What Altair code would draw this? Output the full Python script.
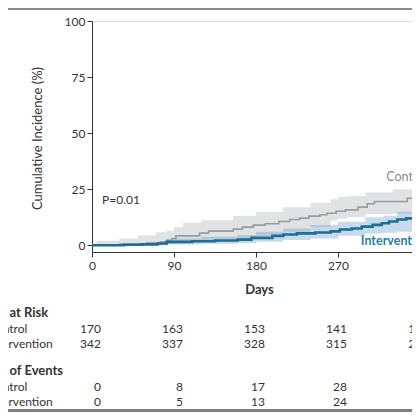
import altair as alt
import pandas as pd

# ---- curves (days, cumulative incidence %) ----
control_days = [0, 12, 30, 45, 60, 75, 82, 88, 92, 118, 128, 155, 165, 177, 190, 205, 217, 228, 238, 250, 258, 268, 278, 292, 302, 310, 346, 365]
control_pct = [0, 0.2, 0.4, 0.7, 1.0, 1.5, 2.1, 3.0, 4.2, 5.4, 6.3, 7.2, 8.1, 9.0, 9.6, 10.6, 11.5, 12.1, 13.0, 13.6, 14.3, 15.2, 15.8, 17.0, 18.5, 19.5, 21.0, 21.0]

interv_days = [0, 35, 55, 72, 82, 110, 135, 160, 175, 198, 210, 225, 245, 262, 272, 285, 296, 308, 318, 326, 335, 345, 358, 365]
interv_pct = [0, 0.2, 0.4, 0.8, 1.5, 1.8, 2.1, 2.5, 3.3, 4.2, 4.8, 5.3, 5.7, 6.2, 7.0, 7.5, 8.3, 9.1, 9.8, 10.6, 11.5, 12.0, 12.3, 12.3]

# confidence bands
control_band_days = [0, 5, 30, 50, 70, 82, 90, 100, 120, 155, 160, 180, 210, 240, 262, 270, 280, 300, 330, 365]
control_band_hi = [0, 2.0, 3.0, 4.5, 5.8, 6.5, 8.0, 10.0, 11.2, 13.0, 13.2, 15.0, 17.0, 19.0, 20.5, 21.5, 22.0, 23.5, 25.0, 26.2]
control_band_lo = [0, 0, 0, 0, 0, 0.5, 0.8, 1.0, 1.5, 2.8, 3.0, 4.0, 6.0, 8.0, 11.0, 11.8, 12.5, 13.8, 14.0, 14.2]

interv_band_days = [0, 30, 60, 82, 120, 160, 180, 210, 240, 270, 300, 320, 335, 365]
interv_band_hi = [0.6, 0.9, 1.5, 3.0, 3.8, 4.6, 6.0, 7.5, 9.0, 10.5, 12.5, 13.2, 15.0, 16.0]
interv_band_lo = [0, 0, 0, 0.4, 0.7, 1.0, 1.6, 2.4, 3.0, 4.2, 5.2, 5.6, 6.0, 6.8]

# ---- table below the plot ----
table_days = [0, 90, 180, 270, 360]
risk_control = [170, 163, 153, 141, 132]
risk_interv = [342, 337, 328, 315, 296]
event_days = [0, 90, 180, 270]
events_control = [0, 8, 17, 28]
events_interv = [0, 5, 13, 24]

x_ticks = [0, 90, 180, 270, 360]
y_ticks = [0, 25, 50, 75, 100]

FONT = "Lato"
GRAY_LINE = "#9c9c9c"
GRAY_BAND = "#e1e2e4"
BLUE_LINE = "#1b6e96"
BLUE_BAND = "#5f97c4"
BLUE_TEXT = "#1f7fa9"

W, H = 320, 231
X_MAX = 351.2  # right edge of the visible window (days)

xscale = alt.Scale(domain=[0, X_MAX], nice=False, zero=False)
yscale = alt.Scale(domain=[-3, 100], nice=False, zero=False)

xaxis = alt.Axis(values=x_ticks, title="Days", grid=False, tickSize=5,
                 labelPadding=3, labelFontSize=12, labelFont=FONT, labelColor="#333",
                 domainColor="#333", tickColor="#333", titleFont=FONT, titleFontSize=13,
                 titleFontWeight="bold", titleColor="#333", titleX=167, titleY=37,
                 titleBaseline="middle", titleAlign="center", labelFlush=False)
yaxis = alt.Axis(values=y_ticks, title="Cumulative Incidence (%)", grid=False, tickSize=5,
                 labelPadding=2, labelFontSize=12, labelFont=FONT, labelColor="#333",
                 domainColor="#333", tickColor="#333", titleFont=FONT, titleFontSize=13,
                 titleFontWeight="normal", titleColor="#333", titleX=-55, titleY=117,
                 titleAngle=270, titleBaseline="middle", titleAlign="center", labelFlush=False)

ctrl_df = pd.DataFrame({"day": control_days, "pct": control_pct})
int_df = pd.DataFrame({"day": interv_days, "pct": interv_pct})
ctrl_band_df = pd.DataFrame({"day": control_band_days, "hi": control_band_hi, "lo": control_band_lo})
int_band_df = pd.DataFrame({"day": interv_band_days, "hi": interv_band_hi, "lo": interv_band_lo})

X = alt.X("day:Q", scale=xscale, axis=xaxis)

ctrl_band = alt.Chart(ctrl_band_df).mark_area(interpolate="step-after", color=GRAY_BAND, opacity=1).encode(
    x=X, y=alt.Y("hi:Q", scale=yscale, axis=yaxis), y2="lo:Q")
int_band = alt.Chart(int_band_df).mark_area(interpolate="step-after", color=BLUE_BAND, opacity=0.35).encode(
    x=X, y=alt.Y("hi:Q", scale=yscale, axis=yaxis), y2="lo:Q")
ctrl_line = alt.Chart(ctrl_df).mark_line(interpolate="step-after", color=GRAY_LINE, strokeWidth=1.6).encode(
    x=X, y=alt.Y("pct:Q", scale=yscale, axis=yaxis))
int_line = alt.Chart(int_df).mark_line(interpolate="step-after", color=BLUE_LINE, strokeWidth=2.6).encode(
    x=X, y=alt.Y("pct:Q", scale=yscale, axis=yaxis))

# annotations in data coordinates
ann_df = pd.DataFrame({
    "day": [11, 323, 295],
    "pct": [20.3, 30.5, 2.0],
    "label": ["P=0.01", "Control", "Intervention"],
    "kind": ["p", "c", "i"],
})
p_text = alt.Chart(ann_df[ann_df.kind == "p"]).mark_text(
    align="left", baseline="middle", font=FONT, fontSize=12, color="#333").encode(
    x=X, y=alt.Y("pct:Q", scale=yscale, axis=yaxis), text="label:N")
c_text = alt.Chart(ann_df[ann_df.kind == "c"]).mark_text(
    align="left", baseline="middle", font=FONT, fontSize=12.5, color="#8a8a8a").encode(
    x=X, y=alt.Y("pct:Q", scale=yscale, axis=yaxis), text="label:N")
i_text = alt.Chart(ann_df[ann_df.kind == "i"]).mark_text(
    align="left", baseline="middle", font=FONT, fontSize=12.5, fontWeight="bold", color=BLUE_TEXT).encode(
    x=X, y=alt.Y("pct:Q", scale=yscale, axis=yaxis), text="label:N")


def num_row(days, vals, ypix):
    df = pd.DataFrame({"day": days, "val": vals})
    return alt.Chart(df).mark_text(align="right", baseline="middle", dx=9, font=FONT,
                                   fontSize=12, color="#333").encode(
        x=X, y=alt.value(ypix), text="val:Q")


def label(txt, ypix, bold=False, xpix=-104, size=12):
    df = pd.DataFrame({"t": [txt]})
    return alt.Chart(df).mark_text(align="left", baseline="middle", font=FONT, fontSize=size,
                                   fontWeight="bold" if bold else "normal", color="#333").encode(
        x=alt.value(xpix), y=alt.value(ypix), text="t:N")


rows = [
    label("No. at Risk", 292, bold=True, xpix=-106, size=13),
    label("Control", 308),
    label("Intervention", 323),
    label("No. of Events", 350, bold=True, xpix=-106, size=13),
    label("Control", 366),
    label("Intervention", 381),
    num_row(table_days, risk_control, 308),
    num_row(table_days, risk_interv, 323),
    num_row(event_days, events_control, 366),
    num_row(event_days, events_interv, 381),
]

border_df = pd.DataFrame({"k": [1]})
top_border = alt.Chart(border_df).mark_rule(color="#8c8c8c", strokeWidth=2).encode(
    x=alt.value(-84), x2=alt.value(W), y=alt.value(-12))
bottom_border = alt.Chart(border_df).mark_rule(color="#7f7f7f", strokeWidth=3).encode(
    x=alt.value(-84), x2=alt.value(W), y=alt.value(389.5))

chart = alt.layer(
    ctrl_band, int_band, ctrl_line, int_line, p_text, c_text, i_text,
    *rows, top_border, bottom_border
).properties(
    width=W, height=H,
    autosize=alt.AutoSizeParams(type="none"),
    padding={"left": 84, "top": 13, "right": 0, "bottom": 160},
).configure_view(stroke=None).configure(background="white")

chart.save("out.html", embed_options={"renderer": "svg", "actions": False})
